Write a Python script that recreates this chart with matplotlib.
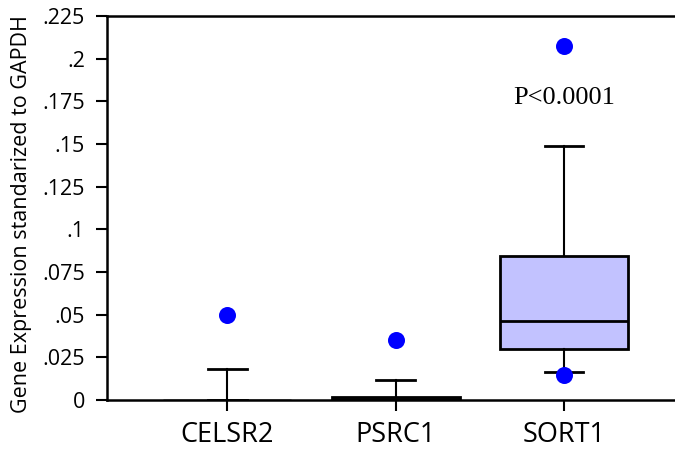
import matplotlib
matplotlib.use("Agg")
import matplotlib.pyplot as plt

categories = ["CELSR2", "PSRC1", "SORT1"]
q1 = [0.0, 0.0, 0.030]
median = [0.0, 0.0008, 0.0466]
q3 = [0.0, 0.0016, 0.0842]
whisker_low = [0.0, 0.0, 0.0163]
whisker_high = [0.0184, 0.0116, 0.1488]
outliers = [[0.0501], [0.0351], [0.2076, 0.0147]]
yticks = [0, 0.025, 0.05, 0.075, 0.1, 0.125, 0.15, 0.175, 0.2, 0.225]
ytick_labels = ["0", ".025", ".05", ".075", ".1", ".125", ".15", ".175", ".2", ".225"]
annotation = "P<0.0001"

fig = plt.figure(figsize=(6.75, 4.51), dpi=100)
ax = fig.add_axes([0.1585, 0.113, 0.8415, 0.8515])

stats = []
for i, c in enumerate(categories):
    stats.append(dict(label=c, q1=q1[i], med=median[i], q3=q3[i],
                      whislo=whisker_low[i], whishi=whisker_high[i], fliers=[]))
pos = list(range(1, len(categories) + 1))
bp = ax.bxp(stats, positions=pos, widths=0.76, patch_artist=True, showfliers=False,
            boxprops=dict(facecolor="#c2c2ff", edgecolor="black", linewidth=2),
            medianprops=dict(color="black", linewidth=2),
            whiskerprops=dict(color="black", linewidth=1.5),
            capprops=dict(color="black", linewidth=2),
            capwidths=0.23)
# a zero-height box collapses onto the axis line
for i in range(len(categories)):
    if q3[i] - q1[i] == 0:
        bp["boxes"][i].set_linewidth(1.0)
        bp["medians"][i].set_linewidth(1.0)
for p, fl in zip(pos, outliers):
    ax.scatter([p] * len(fl), fl, s=150, color="#0000ff", zorder=5, linewidths=0)

ax.text(3, 0.1768, annotation, ha="center", va="center", fontsize=19,
        family="Liberation Serif")

ax.set_xlim(0.286, 3.66)
ax.set_ylim(0, 0.225)
ax.set_yticks(yticks)
ax.set_yticklabels(ytick_labels, fontsize=15.5, family="Open Sans")
ax.set_xticks(pos)
ax.set_xticklabels(categories, fontsize=19.5, family="Open Sans")
ax.set_ylabel("Gene Expression standarized to GAPDH", fontsize=15.5, family="Open Sans")
ax.yaxis.set_label_coords(-0.132, 0.485)
ax.spines["right"].set_visible(False)
for s in ["left", "bottom", "top"]:
    ax.spines[s].set_linewidth(1.8)
ax.tick_params(axis="both", direction="out", length=8, width=1.5)
ax.tick_params(axis="x", pad=7)
ax.tick_params(axis="y", pad=8)

fig.savefig("out.png", dpi=100)
